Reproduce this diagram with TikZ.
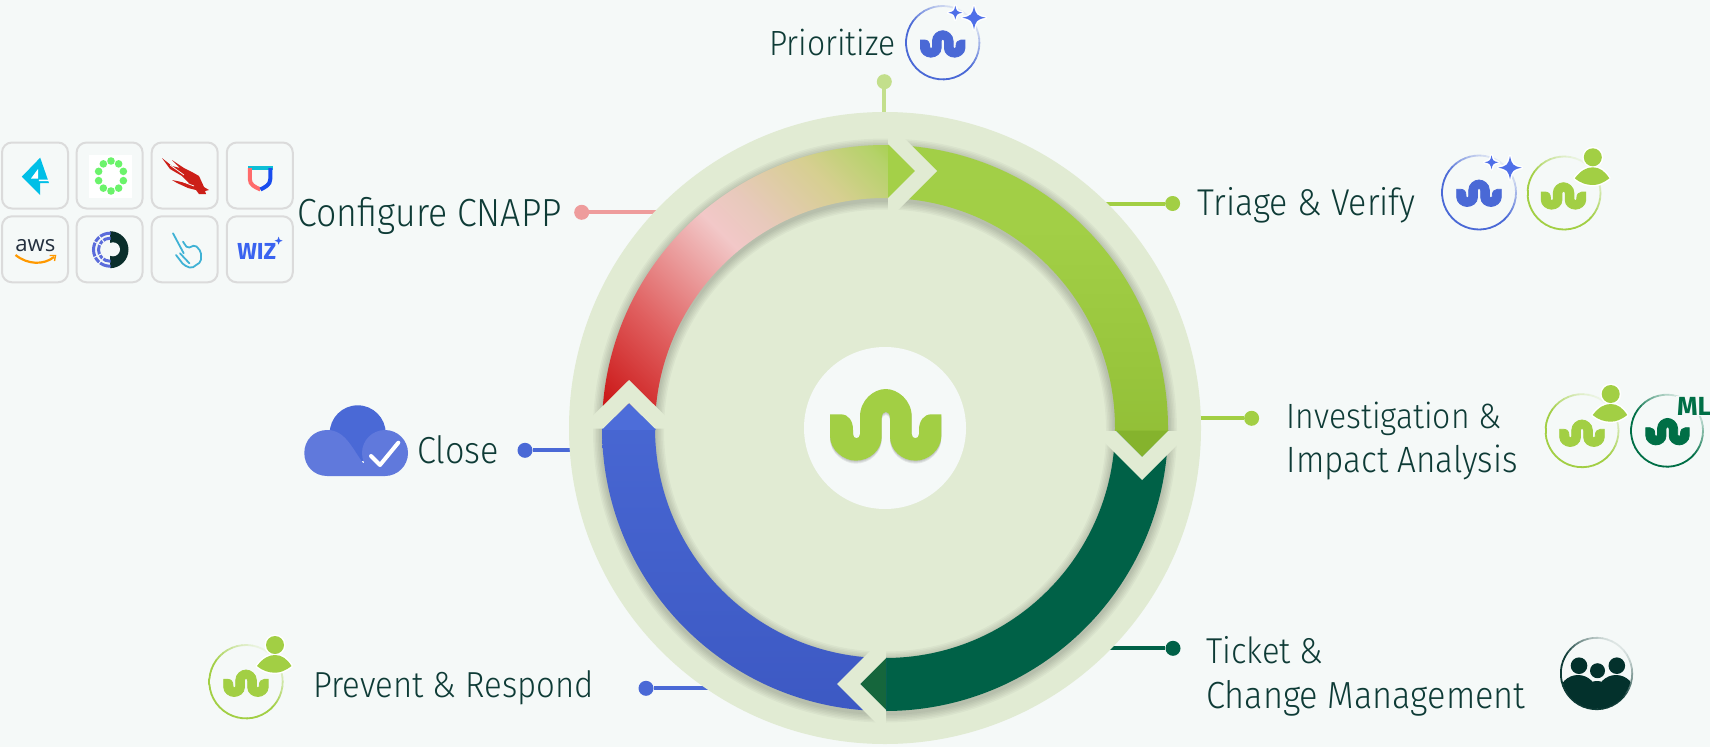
\documentclass[tikz,border=0pt]{standalone}
\usepackage{graphicx}
\usepackage{fontspec}
\setmainfont{Fira Sans}[UprightFont=* Light,BoldFont=* Bold]
\newfontfamily\regf{Open Sans}
\definecolor{bgc}{HTML}{F5F9F8}
\definecolor{ringc}{HTML}{E1EBD3}
\definecolor{limec}{HTML}{A2CF44}
\definecolor{palelime}{HTML}{C3DF8C}
\definecolor{deepc}{HTML}{006147}
\definecolor{mlc}{HTML}{006F46}
\definecolor{bluec}{HTML}{4A69D6}
\definecolor{rosec}{HTML}{EE9C9C}
\definecolor{inkc}{HTML}{0E3B36}
\definecolor{sparkc}{HTML}{4F6FE8}
\newcommand\mkcol[1]{\definecolor{x#1}{HTML}{#1}}
\mkcol{C9141A}\mkcol{CC1A1A}\mkcol{E06060}\mkcol{F2C8C8}\mkcol{E8C9BC}\mkcol{D6CF90}\mkcol{B5D26A}\mkcol{A6D04F}
\mkcol{84B22B}\mkcol{98C53C}\mkcol{A2CF46}\mkcol{A3D049}\mkcol{3752BC}\mkcol{4D6DD9}
\mkcol{85B32D}\mkcol{15663C}\mkcol{A4D048}\mkcol{03312C}\mkcol{6079DC}\mkcol{00BFE7}\mkcol{6BF36B}\mkcol{CC1F18}
\mkcol{0FBFD6}\mkcol{FF6B6B}\mkcol{1A4DEF}\mkcol{232F3E}\mkcol{FF9900}\mkcol{0A2E2B}\mkcol{5B6CDB}\mkcol{3FB2D5}\mkcol{3A63F0}
\pgfdeclarehorizontalshading{rgshade}{100bp}{color(0bp)=(xC9141A);color(15bp)=(xC9141A);color(19bp)=(xCC1A1A);color(34bp)=(xE06060);color(53.5bp)=(xF2C8C8);color(60bp)=(xE8C9BC);color(72.6bp)=(xD6CF90);color(81.8bp)=(xB5D26A);color(85.4bp)=(xA6D04F);color(100bp)=(xA6D04F)}
\pgfdeclareverticalshading{limeshade}{100bp}{color(0bp)=(x84B22B);color(35bp)=(x98C53C);color(60bp)=(xA2CF46);color(100bp)=(xA3D049)}
\pgfdeclareverticalshading{blueshade}{100bp}{color(0bp)=(x3752BC);color(100bp)=(x4D6DD9)}
\newcommand\fitw[2]{\resizebox{#1pt}{!}{#2}}
\newcommand\fitl[2]{\scalebox{1}[1.1]{\resizebox{#1pt}{!}{#2}}}
\newcommand\wavypath{(-55.7,-10.7) -- (-45,-10.7) .. controls (-37,-10.7) and (-32.7,-4) .. (-32.7,5) -- (-32.7,9) .. controls (-32.7,14.5) and (-25.7,14.5) .. (-25.7,9) -- (-25.7,-8.3) .. controls (-25.7,-25) and (-12,-36) .. (0,-36) .. controls (12,-36) and (26,-25) .. (26,-8.3) -- (26,9) .. controls (26,14.5) and (33.3,14.5) .. (33.3,9) -- (33.3,5) .. controls (33.3,-4) and (38,-10.7) .. (45.6,-10.7) -- (55.6,-10.7) -- (55.6,11) .. controls (55.6,25) and (42,35.7) .. (30,35.7) .. controls (16,35.7) and (4.3,25) .. (4.3,11.7) -- (4.3,-7) .. controls (4.3,-15) and (-4,-15) .. (-4,-7) -- (-4,11.7) .. controls (-4,25) and (-16,35.7) .. (-30,35.7) .. controls (-42,35.7) and (-55.7,25) .. (-55.7,11) -- cycle}
\newcommand\wavy[5]{\filldraw[#5,line width=.8pt,shift={(#1,#2)},xscale=#3,yscale=#4] \wavypath;}
\newcommand\spark[4]{\draw[white,line width=3pt,fill=#4,line join=round,shift={(#1,#2)},scale=#3] (0,-1) .. controls (.15,-.25) and (.25,-.15) .. (1,0) .. controls (.25,.15) and (.15,.25) .. (0,1) .. controls (-.15,.25) and (-.25,.15) .. (-1,0) .. controls (-.25,-.15) and (-.15,-.25) .. cycle;
\fill[#4,shift={(#1,#2)},scale=#3] (0,-1) .. controls (.15,-.25) and (.25,-.15) .. (1,0) .. controls (.25,.15) and (.15,.25) .. (0,1) .. controls (-.15,.25) and (-.25,.15) .. (-1,0) .. controls (-.25,-.15) and (-.15,-.25) .. cycle;}
\newcommand\gring[4]{\foreach \a in {0,8,...,352}{\pgfmathsetmacro\pp{int(10+90*min(1,(1-cos(\a-50))/1.1))}\draw[#4!\pp!bgc,line width=1.8pt,line cap=round] ({#1+#3*cos(\a)},{#2-#3*sin(\a)}) -- ({#1+#3*cos(\a+8)},{#2-#3*sin(\a+8)});}}
\newcommand\person[3]{\begin{scope}[shift={(#1,#2)}]
\draw[white,line width=3pt,fill=#3] (0,0) circle[radius=9];
\draw[white,line width=3pt,fill=#3,line join=round] (-18,21) .. controls (-12,13) and (-6,10) .. (0,10) .. controls (7,10) and (12,14) .. (16.5,21) .. controls (10,26) and (5,27.7) .. (0,27.7) .. controls (-6,27.7) and (-12,26) .. cycle;
\fill[#3] (0,0) circle[radius=9];
\fill[#3] (-18,21) .. controls (-12,13) and (-6,10) .. (0,10) .. controls (7,10) and (12,14) .. (16.5,21) .. controls (10,26) and (5,27.7) .. (0,27.7) .. controls (-6,27.7) and (-12,26) .. cycle;
\end{scope}}
\tikzset{
 lab/.style={inner sep=0pt,outer sep=0pt,text=inkc,anchor=base west,font=\fontsize{32}{44.4}\selectfont},
 dotn/.style={circle,inner sep=0pt,minimum size=15pt},
 conn/.style={line width=4pt},
 tile/.style={draw=black!14,line width=2pt,rounded corners=10pt},
 chevron/.style={fill=ringc,draw=none},
}
\begin{document}
\begin{tikzpicture}[x=1pt,y=-1pt]
\useasboundingbox (0,0) rectangle (1710,747);
\clip (0,0) rectangle (1710,747);
\fill[bgc] (0,0) rectangle (1710,747);
% connectors
\coordinate (c) at (885,428);
\node[dotn,fill=palelime] (dP) at (884.3,81.7) {};
\coordinate (rP) at (884.3,118);
\node[dotn,fill=limec] (dT) at (1172.6,203.5) {};
\coordinate (rT) at (1100,203.5);
\node[dotn,fill=limec] (dI) at (1251.6,418.3) {};
\coordinate (rI) at (1190,418.3);
\node[dotn,fill=deepc] (dK) at (1173,648.3) {};
\coordinate (rK) at (1105,648.3);
\node[dotn,fill=bluec] (dR) at (646,688.3) {};
\coordinate (rR) at (712,688.3);
\node[dotn,fill=bluec] (dC) at (525,450.3) {};
\coordinate (rC) at (578,450.3);
\node[dotn,fill=rosec] (dG) at (581.7,212.3) {};
\coordinate (rG) at (662,212.3);
\draw[conn,palelime] (dP) -- (rP);
\draw[conn,limec] (dT) -- (rT);
\draw[conn,limec] (dI) -- (rI);
\draw[conn,deepc] (dK) -- (rK);
\draw[conn,bluec] (dR) -- (rR);
\draw[conn,bluec] (dC) -- (rC);
\draw[conn,rosec] (dG) -- (rG);
% disc
\fill[ringc] (c) circle[radius=316];
% shadow
\foreach \k in {1,...,6}{\pgfmathsetmacro\lw{53+3*\k}\draw[black,opacity=.033,line width=\lw pt] (885,430.5) circle[radius=256.5];}
% quadrants
\begin{scope}[even odd rule]
 \clip (888,130) rectangle (1180,431);
 \clip (c) circle[radius=283] (c) circle[radius=230];
 \shade[shading=limeshade] (888,140) rectangle (1180,432);
\end{scope}
\begin{scope}
 \clip (886,431) rectangle (1180,720);
 \fill[even odd rule,deepc] (c) circle[radius=283] (c) circle[radius=230];
\end{scope}
\begin{scope}[even odd rule]
 \clip (590,130) rectangle (888,426);
 \clip (c) circle[radius=283] (c) circle[radius=230];
 \shade[shading=rgshade,shading angle=45] (600,140) rectangle (890,430);
\end{scope}
\begin{scope}[even odd rule]
 \clip (590,428) rectangle (886,720);
 \clip (c) circle[radius=283] (c) circle[radius=230];
 \shade[shading=blueshade] (590,428) rectangle (886,715);
\end{scope}
% arrow heads
\fill[x85B32D] (1116,430.5) -- (1169,430.5) -- (1142,457) -- cycle;
\fill[x15663C] (886,657) -- (886,711) -- (860,684) -- cycle;
\fill[x4D6DD9] (603,430) -- (655.5,430) -- (655.5,428) -- (629,403) -- (603,428) -- cycle;
\fill[xA4D048] (888,145) -- (888,198) -- (915,171) -- cycle;
% chevrons
\fill[chevron] (888,122) -- (937,171) -- (888,220) -- (888,198) -- (915,171) -- (888,144) -- cycle;
\fill[chevron] (1093,431) -- (1142,480) -- (1191,431) -- (1168,431) -- (1142,457) -- (1116,431) -- cycle;
\fill[chevron] (886,635) -- (837,684) -- (886,733) -- (886,710) -- (860,684) -- (886,658) -- cycle;
\fill[chevron] (580,428.5) -- (629,380) -- (678,428.5) -- (655,428.5) -- (629,403) -- (603,428.5) -- cycle;
% centre
\fill[bgc] (885,428) circle[radius=81];
\foreach \k in {1,2,3}{\fill[black,opacity=.07,shift={(885.7,425+\k)}] \wavypath;}
\fill[limec,shift={(885.7,425)}] \wavypath;
% labels
\node[lab] (tPri) at (769.3,55) {\fitl{126.4}{Prioritize}};
\node[lab] (tCfg) at (297.7,226) {\fitl{264}{Configure CNAPP}};
\node[lab] (tTri) at (1197.6,215) {\fitl{218}{Triage \& Verify}};
\node[lab,align=left] (tInv) at (1286.8,472.7) {\fitl{214.8}{Investigation \&}\\\fitl{231}{Impact Analysis}};
\node[lab,align=left] (tTic) at (1206,708.3) {\fitl{117.5}{Ticket \&}\\\fitl{319.6}{Change Management}};
\node[lab] (tClo) at (417.3,463.3) {\fitl{81.7}{Close}};
\node[lab] (tPre) at (313.3,697.3) {\fitl{280.7}{Prevent \& Respond}};
% Prioritize icon
\gring{942.7}{42.7}{36.7}{bluec}
\wavy{942.7}{44}{.4}{.37}{bluec}
\spark{974}{17.7}{11.7}{sparkc}
\spark{955.3}{12.7}{7}{sparkc}
% Triage icons
\gring{1479}{192.5}{37}{bluec}
\wavy{1479}{193.3}{.4}{.37}{bluec}
\spark{1510}{167.7}{11.7}{sparkc}
\spark{1491.5}{162.3}{7}{sparkc}
\gring{1564}{193}{36.5}{limec}
\wavy{1563.5}{196}{.4}{.37}{limec}
\person{1592.8}{157.3}{limec}
% Investigation icons
\gring{1582}{430.7}{36.5}{limec}
\wavy{1582}{433.3}{.4}{.37}{limec}
\person{1610.7}{394}{limec}
\gring{1667}{430.7}{36}{mlc}
\wavy{1667.5}{431.7}{.39}{.37}{mlc}
\node[inner sep=1pt,outer sep=0pt,anchor=base west,text=mlc,fill=bgc] (tML) at (1676,415) {\fitw{34}{\bfseries ML}};
% group icon
\gring{1596.5}{673.5}{35.7}{inkc}
\begin{scope}
 \clip (1596.5,673.5) circle[radius=35];
 \fill[x03312C] (1578,694) circle[radius=19];
 \fill[x03312C] (1616,694) circle[radius=19];
 \fill[x03312C] (1597,696) circle[radius=15];
 \fill[x03312C] (1555,694) rectangle (1640,712);
\end{scope}
\fill[x03312C] (1579,665.7) circle[radius=8.3];
\fill[x03312C] (1616.8,665.7) circle[radius=8.3];
\fill[x03312C] (1597.5,670.7) circle[radius=7.5];
% Prevent icon
\gring{246}{681.7}{36.7}{limec}
\wavy{246}{683.3}{.4}{.37}{limec}
\person{275}{645}{limec}
% cloud
\fill[bluec] (357.7,433.3) circle[radius=28];
\fill[x6079DC] (385,453) circle[radius=23];
\fill[x6079DC] (327.3,476) .. controls (314,476) and (304.3,466) .. (304.3,453) .. controls (304.3,440) and (314,430) .. (327.3,430) .. controls (345,430) and (352,448) .. (363,463) -- (385,463) -- (385,476) -- cycle;
\draw[white,line width=4pt,line cap=round,line join=round] (371,456) -- (380,465) -- (398.3,442.7);
% tiles
\foreach \tx/\ty in {35/175.5,109.6/175.5,184.7/175.5,259.8/175.5,35/249.3,109.6/249.3,184.7/249.3,259.8/249.3}{
 \draw[tile] (\tx-33,\ty-33) rectangle (\tx+33,\ty+33);}
% kite
\fill[x00BFE7] (40.2,157.7) -- (21.8,176.7) -- (40.2,195) -- (40.2,183) -- (49,183) -- cycle;
\fill[white] (38,169) -- (31,178.5) -- (38,178.5) -- cycle;
\fill[white] (38.8,181) -- (49,181) -- (48.4,179.5) -- (38.8,179.5) -- cycle;
% green dots
\fill[white] (89.2,155) rectangle (132,197.7);
\foreach \a in {18,54,...,342}{\fill[x6BF36B] ({111+13*cos(\a)},{176+15*sin(\a)}) circle[radius=3.8];}
% falcon
\fill[xCC1F18] (162,158) -- (172,166) -- (180,168) -- (172,160) -- (184,168) -- (192,172) -- (199,176) -- (204,187) -- (209,190) -- (205,191) -- (206,194) -- (199,194) -- (196,190) -- (188,188) -- (177,183) -- (172,180) -- (182,182) -- (190,184) -- (182,176) -- (170,169) -- cycle;
\draw[bgc,line width=.8pt] (170,165) -- (184,175) (178,180) -- (194,186);
% shield
\fill[x0FBFD6] (247.6,165.7) rectangle (272.5,169.5);
\draw[xFF6B6B,line width=4pt] (249.8,168) -- (249.8,179) .. controls (249.8,185) and (255,187) .. (260.5,189.5);
\draw[x1A4DEF,line width=4pt] (270.3,168) -- (270.3,179) .. controls (270.3,185) and (265,187) .. (260.5,189.5);
% aws
\node[inner sep=0pt,outer sep=0pt,anchor=base west,text=x232F3E] (tAws) at (15.3,251.7) {\fitw{40}{\regf aws}};
\draw[xFF9900,line width=2.2pt] (15.5,255) .. controls (28,265) and (44,265) .. (54,257);
\draw[xFF9900,line width=1.4pt] (49.5,255.5) -- (55.5,255.5) -- (54.5,261);
% orbit D
\fill[x0A2E2B] (110,249.7) circle[radius=18.5];
\fill[bgc] (91,229) rectangle (110,270);
\fill[bgc] (113,249.3) circle[radius=7];
\begin{scope}
 \clip (90,229) rectangle (110.5,270);
 \draw[x5B6CDB,line width=3pt] (110,249.7) circle[radius=16.5] (110,249.7) circle[radius=11.5];
 \draw[bgc,line width=1pt] (91,240) -- (110,249.7) -- (91,259) (96,232) -- (110,249.7) -- (96,267);
\end{scope}
% shovel
\draw[x3FB2D5,line width=1.8pt,rounded corners=2pt,line cap=round] (173,233.3) -- (183.7,253.3) (183,241.7) -- (187.5,248.3) -- (195.2,245) -- (201,251.7) -- (201,261.7) -- (191.4,268.3) -- (183.7,265) -- (176,255) (180,253.3) -- (189.4,263.3);
% wiz
\node[inner sep=0pt,outer sep=0pt,anchor=base west,text=x3A63F0] (tWiz) at (237.3,259.3) {\fitw{39}{\bfseries WIZ}};
\fill[x3A63F0,shift={(278.6,240.7)},scale=4] (0,-1) .. controls (.15,-.25) and (.25,-.15) .. (1,0) .. controls (.25,.15) and (.15,.25) .. (0,1) .. controls (-.15,.25) and (-.25,.15) .. (-1,0) .. controls (-.25,-.15) and (-.15,-.25) .. cycle;
\end{tikzpicture}
\end{document}
